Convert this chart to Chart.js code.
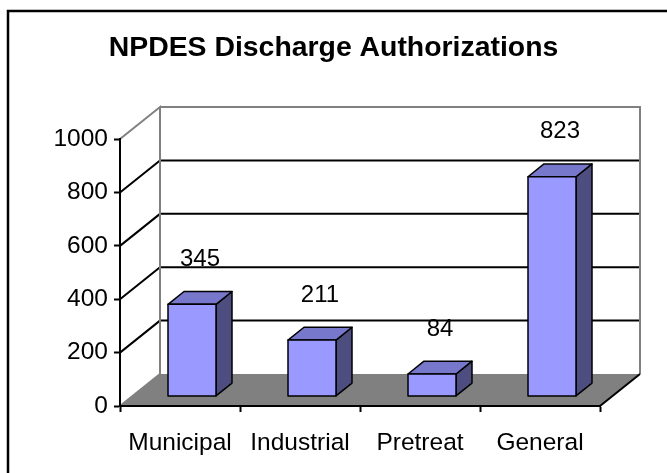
<!DOCTYPE html>
<html>
<head>
<meta charset="utf-8">
<script src="https://cdn.jsdelivr.net/npm/chart.js@4"></script>
<style>
  body { margin: 0; background: #fff; }
  canvas { display: block; }
</style>
</head>
<body>
<canvas id="npdesChart" width="667" height="473"></canvas>
<script>
const categories = ['Municipal', 'Industrial', 'Pretreat', 'General'];
const authorizations = [345, 211, 84, 823];
const yMin = 0;
const yMax = 1000;
const yStep = 200;

// 3D look: back wall offset and bar depth (fraction of wall depth)
const DEPTH_X = 40;
const DEPTH_Y = -32;
const BAR_FRONT = 0.3;
const BAR_BACK = 0.7;

const FONT = "'Liberation Sans', Arial, sans-serif";

const threeD = {
    id: 'threeD',
    beforeDraw(chart) {
        const ctx = chart.ctx;
        const x = chart.scales.x;
        const y = chart.scales.y;
        const left = x.left, right = x.right;
        const bottom = y.getPixelForValue(yMin);
        const top = y.getPixelForValue(yMax);

        ctx.save();
        ctx.fillStyle = '#fff';
        ctx.fillRect(0, 0, chart.width, chart.height);

        // outer frame
        ctx.strokeStyle = '#000';
        ctx.lineWidth = 2.5;
        ctx.strokeRect(8, 11, chart.width + 20, chart.height + 20);

        // floor
        ctx.fillStyle = '#808080';
        ctx.beginPath();
        ctx.moveTo(left, bottom);
        ctx.lineTo(left + DEPTH_X, bottom + DEPTH_Y);
        ctx.lineTo(right + DEPTH_X, bottom + DEPTH_Y);
        ctx.lineTo(right, bottom);
        ctx.closePath();
        ctx.fill();

        // gridlines: diagonal on the side wall, then along the back wall
        ctx.lineWidth = 2;
        for (let v = yMin + yStep; v < yMax; v += yStep) {
            const py = y.getPixelForValue(v);
            ctx.strokeStyle = '#000';
            ctx.beginPath();
            ctx.moveTo(left, py);
            ctx.lineTo(left + DEPTH_X, py + DEPTH_Y);
            ctx.lineTo(right + DEPTH_X, py + DEPTH_Y);
            ctx.stroke();
        }

        // wall outline
        ctx.strokeStyle = '#808080';
        ctx.beginPath();
        ctx.moveTo(left, bottom);
        ctx.lineTo(left + DEPTH_X, bottom + DEPTH_Y);
        ctx.lineTo(left + DEPTH_X, top + DEPTH_Y);
        ctx.lineTo(left, top);
        ctx.moveTo(left + DEPTH_X, top + DEPTH_Y);
        ctx.lineTo(right + DEPTH_X, top + DEPTH_Y);
        ctx.lineTo(right + DEPTH_X, bottom + DEPTH_Y);
        ctx.stroke();

        // right edge of floor
        ctx.strokeStyle = '#000';
        ctx.beginPath();
        ctx.moveTo(right, bottom);
        ctx.lineTo(right + DEPTH_X, bottom + DEPTH_Y);
        ctx.stroke();
        ctx.restore();
    },
    afterDatasetsDraw(chart) {
        const ctx = chart.ctx;
        const meta = chart.getDatasetMeta(0);
        const fx = DEPTH_X * BAR_FRONT, fy = DEPTH_Y * BAR_FRONT;
        const dx = DEPTH_X * (BAR_BACK - BAR_FRONT), dy = DEPTH_Y * (BAR_BACK - BAR_FRONT);

        ctx.save();
        ctx.lineWidth = 1.5;
        ctx.strokeStyle = '#000';
        ctx.lineJoin = 'round';
        meta.data.forEach((bar, i) => {
            const L = bar.x - bar.width / 2 + fx;
            const R = bar.x + bar.width / 2 + fx;
            const T = bar.y + fy;
            const B = bar.base + fy;

            // side
            ctx.fillStyle = '#4d4d80';
            ctx.beginPath();
            ctx.moveTo(R, T);
            ctx.lineTo(R + dx, T + dy);
            ctx.lineTo(R + dx, B + dy);
            ctx.lineTo(R, B);
            ctx.closePath();
            ctx.fill();
            ctx.stroke();

            // top
            ctx.fillStyle = '#7777cc';
            ctx.beginPath();
            ctx.moveTo(L, T);
            ctx.lineTo(L + dx, T + dy);
            ctx.lineTo(R + dx, T + dy);
            ctx.lineTo(R, T);
            ctx.closePath();
            ctx.fill();
            ctx.stroke();

            // front
            ctx.fillStyle = '#9999ff';
            ctx.fillRect(L, T, R - L, B - T);
            ctx.strokeRect(L, T, R - L, B - T);

            // value label
            ctx.fillStyle = '#000';
            ctx.font = '24px ' + FONT;
            ctx.textAlign = 'center';
            ctx.textBaseline = 'middle';
            ctx.fillText(String(authorizations[i]), bar.x + fx + 8, T - 45);
        });
        ctx.restore();
    }
};

new Chart(document.getElementById('npdesChart'), {
    type: 'bar',
    data: {
        labels: categories,
        datasets: [{
            data: authorizations,
            backgroundColor: 'rgba(0,0,0,0)',
            borderWidth: 0,
            barPercentage: 0.4,
            categoryPercentage: 1.0
        }]
    },
    options: {
        responsive: false,
        animation: false,
        events: [],
        devicePixelRatio: 1,
        layout: { padding: 0 },
        plugins: {
            legend: { display: false },
            tooltip: { enabled: false },
            title: {
                display: true,
                text: 'NPDES Discharge Authorizations',
                color: '#000',
                font: { family: FONT, size: 28.4, weight: 'bold' },
                padding: { top: 31, bottom: 74 }
            }
        },
        scales: {
            x: {
                afterFit: s => { s.height = 67; },
                grid: {
                    offset: true,
                    drawOnChartArea: false,
                    drawTicks: true,
                    tickLength: 6,
                    tickColor: '#000',
                    tickWidth: 2
                },
                border: { display: true, color: '#000', width: 2 },
                ticks: {
                    color: '#000',
                    font: { family: FONT, size: 24.5 },
                    padding: 17,
                    maxRotation: 0
                }
            },
            y: {
                min: yMin,
                max: yMax,
                afterFit: s => { s.width = 120; },
                grid: {
                    drawOnChartArea: false,
                    drawTicks: true,
                    tickLength: 6,
                    tickColor: '#000',
                    tickWidth: 2
                },
                border: { display: true, color: '#000', width: 2 },
                ticks: {
                    stepSize: yStep,
                    color: '#000',
                    font: { family: FONT, size: 24.5 },
                    padding: 6,
                    callback: v => String(v)
                }
            },
            // empty box on the right that leaves room for the 3D depth
            depth: {
                type: 'linear',
                position: 'right',
                min: yMin,
                max: yMax,
                afterFit: s => { s.width = 67; },
                grid: { display: false },
                border: { display: false },
                ticks: { display: false }
            }
        }
    },
    plugins: [threeD]
});
</script>
</body>
</html>
